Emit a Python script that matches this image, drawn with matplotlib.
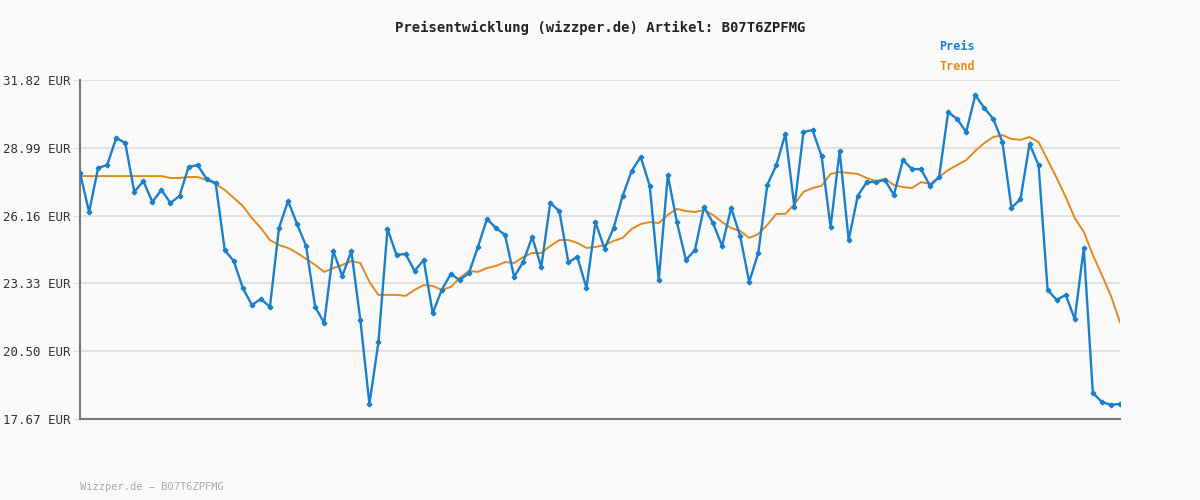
import matplotlib
matplotlib.use("Agg")
import matplotlib.pyplot as plt
import numpy as np

price = [27.94,26.31,28.15,28.27,29.40,29.19,27.15,27.60,26.73,27.23,
26.69,26.98,28.19,28.27,27.69,27.52,24.72,24.26,23.14,22.43,
22.68,22.35,25.64,26.77,25.81,24.89,22.35,21.68,24.68,23.64,
24.68,21.80,18.30,20.88,25.60,24.52,24.56,23.85,24.31,22.09,
23.06,23.72,23.47,23.76,24.85,26.02,25.64,25.35,23.60,24.22,
25.27,24.01,26.69,26.35,24.22,24.43,23.14,25.89,24.77,25.64,
26.98,28.02,28.61,27.40,23.47,27.85,25.89,24.31,24.72,26.52,
25.85,24.89,26.48,25.31,23.39,24.60,27.44,28.27,29.57,26.52,
29.65,29.73,28.65,25.68,28.86,25.14,26.98,27.56,27.56,27.65,
27.02,28.48,28.10,28.10,27.40,27.77,30.48,30.19,29.65,31.19,
30.65,30.19,29.23,26.48,26.85,29.15,28.27,23.06,22.64,22.85,
21.84,24.81,18.76,18.38,18.26,18.30]

trend = [27.81]*10 + [27.73,27.73,27.77,27.77,27.65,27.48,27.23,26.90,26.56,26.06,
25.64,25.14,24.93,24.81,24.60,24.35,24.10,23.81,23.97,24.10,
24.26,24.18,23.39,22.85,22.85,22.85,22.81,23.06,23.26,23.22,
23.06,23.18,23.56,23.85,23.81,23.97,24.06,24.22,24.18,24.43,
24.60,24.60,24.89,25.14,25.14,25.02,24.81,24.85,24.93,25.10,
25.23,25.60,25.81,25.89,25.85,26.19,26.44,26.35,26.31,26.39,
26.19,25.89,25.64,25.52,25.23,25.39,25.77,26.23,26.23,26.64,
27.15,27.31,27.40,27.90,27.98,27.94,27.90,27.73,27.60,27.69,
27.44,27.35,27.31,27.56,27.48,27.77,28.06,28.27,28.48,28.86,
29.19,29.44,29.52,29.36,29.32,29.44,29.23,28.48,27.73,26.94,
26.06,25.48,24.52,23.68,22.81,21.72]

yticks = [17.67, 20.50, 23.33, 26.16, 28.99, 31.82]
ytick_labels = [f"{v:.2f} EUR" for v in yticks]

mono = "DejaVu Sans Mono"
bg = "#fafafa"
fig = plt.figure(figsize=(12, 5), dpi=100, facecolor=bg)
ax = fig.add_axes([0.0667, 0.162, 0.8666, 0.678], facecolor=bg)
x = np.arange(len(price))
ax.plot(x, trend, color="#e08a1e", lw=1.4, zorder=2)
ax.plot(x, price, color="#1a7fcc", lw=1.7, marker="P", ms=3, zorder=3)
ax.set_xlim(0, len(price) - 1)
ax.set_ylim(17.67, 31.82)
ax.set_yticks(yticks)
ax.set_yticklabels(ytick_labels, fontfamily=mono, fontsize=9, color="#333333")
ax.set_xticks([])
ax.grid(axis="y", color="#e2e2e2", lw=1.5)
ax.tick_params(axis="y", length=5, color="#e2e2e2", pad=2)
for s in ["top", "right"]:
    ax.spines[s].set_visible(False)
for s in ["left", "bottom"]:
    ax.spines[s].set_color("#777777")
    ax.spines[s].set_linewidth(1.5)
ax.set_axisbelow(True)

fig.text(0.5, 1 - 28/500, "Preisentwicklung (wizzper.de) Artikel: B07T6ZPFMG",
         ha="center", va="center", fontfamily=mono, fontsize=10, color="#222222",
         fontweight="semibold")
fig.text(939/1200, 1 - 47/500, "Preis", ha="left", va="center", fontfamily=mono,
         fontsize=8.5, color="#1a7fcc", fontweight="bold")
fig.text(939/1200, 1 - 67/500, "Trend", ha="left", va="center", fontfamily=mono,
         fontsize=8.5, color="#e08a1e", fontweight="bold")
fig.text(80/1200, 1 - 487/500, "Wizzper.de – B07T6ZPFMG", ha="left", va="center",
         fontfamily=mono, fontsize=7.5, color="#aaaaaa")
fig.savefig("out.png", dpi=100, facecolor=bg)
